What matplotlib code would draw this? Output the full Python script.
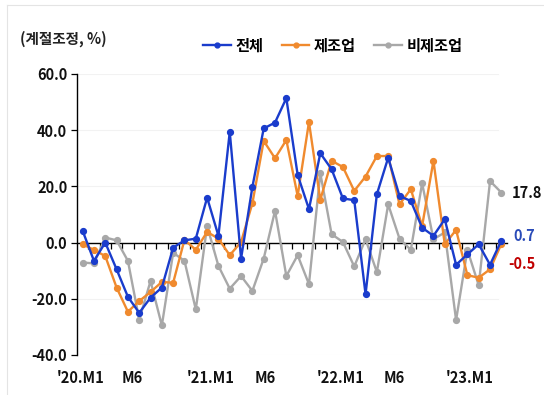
import numpy as np
import matplotlib
matplotlib.use("Agg")
import matplotlib.pyplot as plt
from matplotlib.lines import Line2D

plt.rcParams['font.family'] = ['Noto Sans CJK KR', 'DejaVu Sans']

# monthly series (seasonally adjusted, %)
total = [4.2, -6.5, 0.0, -9.5, -19.3, -25.0, -19.6, -16.0, -1.8, 0.8,
         1.4, 16.0, 2.4, 39.4, -5.7, 19.8, 40.6, 42.7, 51.4, 24.1,
         11.9, 31.8, 26.1, 15.7, 15.1, -18.4, 17.2, 30.2, 16.6, 14.8,
         5.3, 2.4, 8.3, -7.9, -4.2, -0.6, -7.9, 0.7]
manuf = [-0.6, -2.6, -4.8, -16.0, -24.6, -20.8, -17.6, -14.0, -14.3, 1.0,
         -2.6, 3.8, 1.4, -4.5, 0.2, 14.0, 36.2, 30.0, 36.5, 16.6,
         42.9, 15.2, 29.1, 26.9, 18.4, 23.5, 30.8, 30.8, 13.6, 19.0,
         5.9, 29.1, -0.6, 4.5, -11.6, -12.5, -9.5, -0.5]
nonmanuf = [-7.1, -7.4, 1.8, 0.8, -6.5, -27.4, -13.7, -29.5, -3.6, -6.5,
            -23.8, 5.9, -8.3, -16.4, -11.9, -17.2, -5.7, 11.3, -11.9, -4.5,
            -14.8, 24.7, 3.0, 0.2, -8.5, 1.2, -10.5, 13.6, 1.4, -2.6,
            21.1, 1.2, 3.6, -27.6, -2.6, -15.2, 21.9, 17.8]

series_names = ["전체", "제조업", "비제조업"]
colors = ["#1a3ccc", "#f08a2e", "#a8a8a8"]

xlabel_pos = [-0.2, 4.4, 11.3, 16.1, 22.8, 27.5, 34.2]
xlabel_text = ["'20.M1", "M6", "'21.M1", "M6", "'22.M1", "M6", "'23.M1"]

end_labels = ["17.8", "0.7", "-0.5"]
end_label_x = [37.95, 38.1, 37.6]
end_label_y = [17.8, 2.5, -7.5]
end_label_colors = ["#111111", "#2a4bb8", "#c00000"]

fig = plt.figure(figsize=(5.44, 3.95), dpi=100)
ax = fig.add_axes([0.1415, 0.1013, 0.7905, 0.7114])

x = np.arange(len(total))
# gray drawn first so the other two sit on top
for vals, c, z in [(nonmanuf, colors[2], 2), (manuf, colors[1], 3), (total, colors[0], 4)]:
    ax.plot(x, vals, color=c, lw=1.7, marker="o", markersize=4.2, zorder=z)

ax.set_xlim(-0.5, len(total) - 0.5)
ax.set_ylim(-40, 60)
ax.set_yticks(np.arange(-40, 61, 20))
ax.set_yticklabels([f"{v:.1f}" for v in range(-40, 61, 20)],
                   fontsize=10.5, fontweight="bold", color="#111111")
ax.tick_params(axis="y", direction="out", length=4, width=0.9, pad=3)

# faint horizontal grid
for v in range(-40, 61, 20):
    ax.axhline(v, xmin=0, xmax=0.98, color="#f2f2f2", lw=0.8, zorder=0)

for s in ["top", "right"]:
    ax.spines[s].set_visible(False)
ax.spines["left"].set_linewidth(1.0)
ax.spines["bottom"].set_position(("data", 0))
ax.spines["bottom"].set_linewidth(1.0)
ax.spines["bottom"].set_zorder(1)

ax.set_xticks(np.arange(0.5, len(total) - 0.5, 1.0))
ax.set_xticklabels([])
ax.tick_params(axis="x", direction="out", length=4, width=0.9)

for p, t in zip(xlabel_pos, xlabel_text):
    ax.text(p, -0.082, t, transform=ax.get_xaxis_transform(),
            ha="center", va="center", fontsize=10.5, fontweight="bold",
            color="#111111")

for t, xv, yv, c in zip(end_labels, end_label_x, end_label_y, end_label_colors):
    ax.text(xv, yv, t, ha="left", va="center",
            fontsize=10.5, fontweight="bold", color=c, clip_on=False)

fig.text(0.037, 0.902, "(계절조정, %)", ha="left", va="center",
         fontsize=10.5, fontweight="bold", color="#222222")

handles = [Line2D([0], [0], color=c, lw=1.7, marker="o", markersize=3.5)
           for c in colors]
fig.legend(handles, series_names, loc="center", bbox_to_anchor=(0.612, 0.885),
           ncol=3, frameon=False, handlelength=1.8,
           handletextpad=0.3, columnspacing=1.2,
           prop={"weight": "bold", "size": 11})

# light frame along the top and left edges
fig.add_artist(Line2D([7 / 544, 7 / 544], [0, 1 - 5 / 395], color="#e4e4e4",
                      lw=0.8, transform=fig.transFigure))
fig.add_artist(Line2D([7 / 544, 1], [1 - 5 / 395, 1 - 5 / 395], color="#e4e4e4",
                      lw=0.8, transform=fig.transFigure))

fig.savefig("out.png", dpi=100)
